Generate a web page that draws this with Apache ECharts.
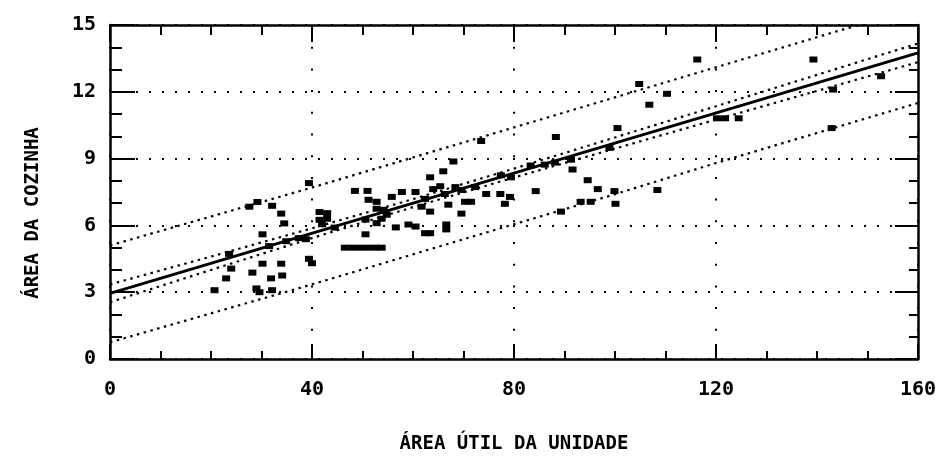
<!DOCTYPE html>
<html>
<head>
<meta charset="utf-8">
<script src="https://cdn.jsdelivr.net/npm/echarts@6/dist/echarts.min.js"></script>
<style>html,body{margin:0;padding:0;background:#fff;}#c{width:939px;height:459px;}</style>
</head>
<body>
<div id="c"></div>
<script>
// ---- data ----
var xTickLabels = ['0', '40', '80', '120', '160'];
var yTickLabels = ['0', '3', '6', '9', '12', '15'];
var xTitle = 'ÁREA ÚTIL DA UNIDADE';
var yTitle = 'ÁREA DA COZINHA';

var unitArea = [20.7,23.0,24.0,23.6,28.2,29.0,29.6,32.1,31.9,34.1,30.2,33.9,31.5,30.2,34.9,37.4,38.8,39.4,40.0,34.5,
  33.9,32.1,27.6,29.2,39.4,41.5,43.0,41.5,43.0,42.0,44.5,46.5,48.0,49.5,51.0,52.5,53.8,50.6,50.6,52.8,
  53.8,54.8,54.2,52.8,51.2,52.8,48.5,51.0,55.8,57.8,60.5,56.6,59.1,60.5,62.4,63.4,61.7,62.4,63.4,63.4,
  64.0,65.4,66.0,68.0,66.3,67.0,66.6,66.6,68.4,69.6,69.6,70.3,71.5,72.3,73.5,74.5,77.3,78.2,79.2,77.4,
  79.4,83.3,84.3,86.1,88.1,88.3,89.3,91.3,91.6,93.2,95.2,94.6,96.6,98.9,99.9,100.1,100.5,104.8,106.8,108.4,
  110.3,116.3,120.2,121.8,124.5,139.3,142.9,143.2,152.7];
var kitchenArea = [3.09,3.62,4.06,4.72,3.88,3.17,3.0,3.09,3.62,3.75,4.28,4.28,5.07,5.6,5.29,5.43,5.38,4.5,4.3,6.09,
  6.53,6.88,6.84,7.05,7.9,6.6,6.55,6.25,6.3,6.05,5.9,5.0,5.0,5.0,5.0,5.0,5.0,5.6,6.26,6.1,
  6.3,6.48,6.7,6.75,7.15,7.06,7.55,7.55,7.28,7.5,7.5,5.91,6.04,5.95,5.65,5.65,6.84,7.19,6.62,8.16,
  7.63,7.76,8.43,8.87,7.41,6.93,6.04,5.82,7.72,7.59,6.53,7.06,7.06,7.72,9.79,7.41,7.41,6.97,7.28,8.25,
  8.16,8.69,7.54,8.73,8.82,9.97,6.62,8.95,8.51,7.06,7.06,8.03,7.63,9.48,7.54,6.97,10.37,12.35,11.42,7.59,
  11.91,13.45,10.81,10.81,10.81,13.45,10.37,12.1,12.7];

var lineX = [0, 160];
var fitY = [2.95, 13.75];

var bandX = [0, 20, 40, 60, 80, 100, 120, 140, 160];
var confUpper = [3.35, 4.6, 5.87, 7.18, 8.55, 9.95, 11.35, 12.76, 14.17];
var confLower = [2.55, 4.0, 5.43, 6.82, 8.15, 9.45, 10.75, 12.04, 13.33];
var predUpper = [5.1, 6.4, 7.7, 9.05, 10.4, 11.75, 13.1, 14.45, 15.8];
var predLower = [0.75, 2.05, 3.35, 4.7, 6.05, 7.4, 8.8, 10.15, 11.5];

// ---- build ----
function pairs(xs, ys) { return xs.map(function (x, i) { return [x, ys[i]]; }); }
var FONT = 'DejaVu Sans Mono';
var dotted = { color: '#000', width: 2.2, type: [2.5, 4.5] };

function bandSeries(ys) {
  return { type: 'line', xAxisIndex: 0, yAxisIndex: 0, data: pairs(bandX, ys), showSymbol: false,
    lineStyle: dotted, silent: true, z: 3 };
}
function frameAxis(extra) {
  var base = {
    type: 'value',
    axisLine: { show: true, onZero: false, lineStyle: { color: '#000', width: 2.5 } },
    axisLabel: { show: false }, splitLine: { show: false }
  };
  for (var k in extra) base[k] = extra[k];
  return base;
}

var chart = echarts.init(document.getElementById('c'), null, { renderer: 'canvas' });
chart.setOption({
  animation: false,
  backgroundColor: '#fff',
  grid: { left: 110, right: 19, top: 25, bottom: 94, containLabel: false },
  graphic: [{
    type: 'text', x: 33, y: 213, rotation: Math.PI / 2, silent: true,
    style: { text: yTitle, fill: '#000', font: 'bold 19px "DejaVu Sans Mono"',
      textAlign: 'center', textVerticalAlign: 'middle', align: 'center', verticalAlign: 'middle' }
  }],
  xAxis: [frameAxis({
    min: 0, max: 160, interval: 40, position: 'bottom',
    axisTick: { show: true, inside: true, length: 15, lineStyle: { color: '#000', width: 2 } },
    minorTick: { show: true, splitNumber: 4, length: 8, lineStyle: { color: '#000', width: 2 } },
    axisLabel: { show: true, color: '#000', fontFamily: FONT, fontWeight: 'bold', fontSize: 20, margin: 21,
      formatter: function (v) { return xTickLabels[Math.round(v / 40)]; } },
    splitLine: { show: true, lineStyle: { color: '#000', width: 2, type: [2, 19.7] } },
    name: xTitle, nameLocation: 'middle', nameGap: 76,
    nameTextStyle: { color: '#000', fontFamily: FONT, fontWeight: 'bold', fontSize: 19 }
  }), frameAxis({
    min: 0, max: 160, interval: 40, position: 'top',
    axisTick: { show: true, inside: true, length: 17, lineStyle: { color: '#000', width: 2 } },
    minorTick: { show: true, splitNumber: 4, length: 10, lineStyle: { color: '#000', width: 2 } }
  })],
  yAxis: [frameAxis({
    min: 0, max: 15, interval: 3, position: 'left',
    axisTick: { show: true, inside: true, length: 25, lineStyle: { color: '#000', width: 2 } },
    minorTick: { show: true, splitNumber: 3, length: 12, lineStyle: { color: '#000', width: 2 } },
    axisLabel: { show: true, color: '#000', fontFamily: FONT, fontWeight: 'bold', fontSize: 20, margin: 14,
      formatter: function (v) { return yTickLabels[Math.round(v / 3)]; } },
    splitLine: { show: true, lineStyle: { color: '#000', width: 2, type: [2, 11] } }
  }), frameAxis({
    min: 0, max: 15, interval: 3, position: 'right',
    axisTick: { show: true, inside: true, length: 23, lineStyle: { color: '#000', width: 2 } },
    minorTick: { show: true, splitNumber: 3, length: 9, lineStyle: { color: '#000', width: 2 } }
  })],
  series: [
    bandSeries(predUpper), bandSeries(predLower), bandSeries(confUpper), bandSeries(confLower),
    { type: 'line', data: pairs(lineX, fitY), showSymbol: false, silent: true, z: 4,
      lineStyle: { color: '#000', width: 3, type: 'solid' } },
    { type: 'scatter', data: pairs(unitArea, kitchenArea), symbol: 'rect', symbolSize: [8, 6],
      itemStyle: { color: '#000', opacity: 1 }, silent: true, z: 5 }
  ]
});
</script>
</body>
</html>
